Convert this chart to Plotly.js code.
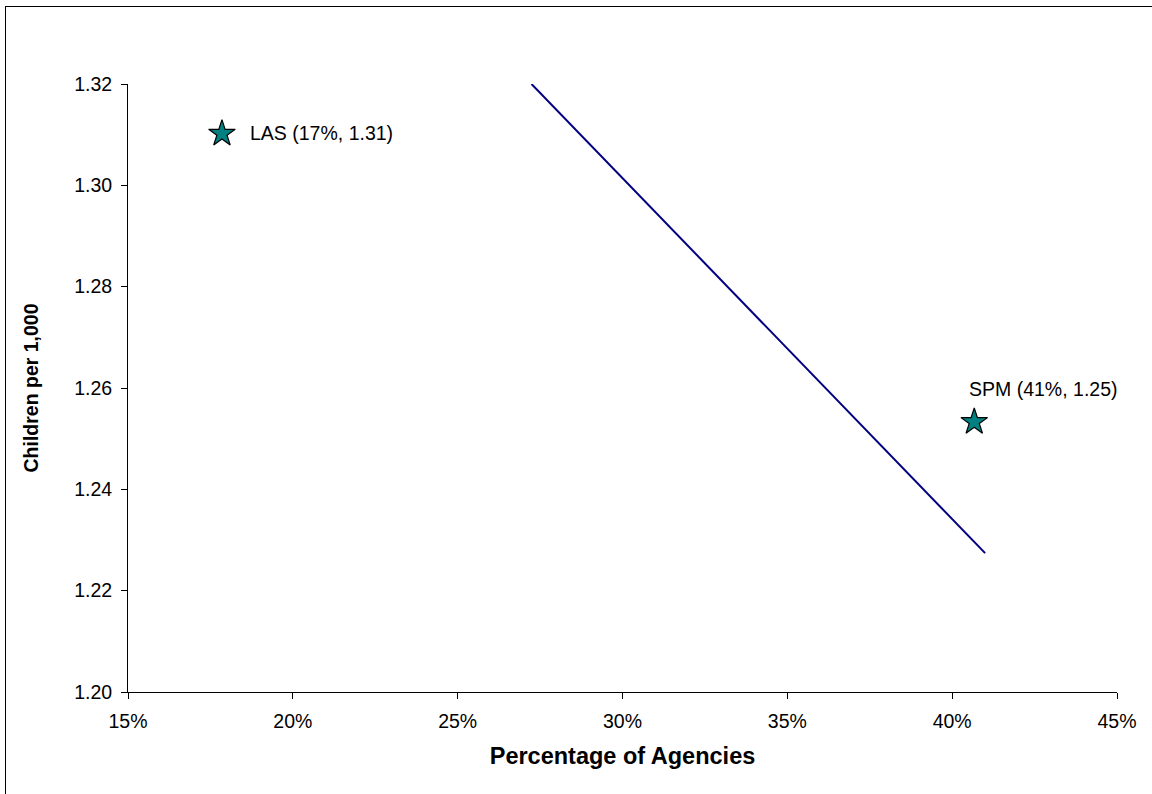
<!DOCTYPE html>
<html>
<head>
<meta charset="utf-8">
<script src="https://cdn.plot.ly/plotly-3.0.1.min.js"></script>
<style>
html,body{margin:0;padding:0;overflow:hidden;background:#fff;}
#wrap{position:absolute;left:0;top:0;width:1152px;height:794px;}
#frame{position:absolute;left:5px;top:6px;width:1200px;height:900px;border-left:1px solid #000;border-top:1px solid #000;pointer-events:none;}
#chart{position:absolute;left:0;top:0;width:1152px;height:794px;}
</style>
</head>
<body>
<div id="wrap"><div id="chart"></div><div id="frame"></div></div>
<script>
const agencyNames = ["LAS", "SPM"];
const agencyPct = [0.1785, 0.4067];
const childrenPer1000 = [1.3102, 1.2533];
const pointLabels = ["LAS (17%, 1.31)", "SPM (41%, 1.25)"];
const trendX = [0.2724, 0.4100];
const trendY = [1.3200, 1.2274];
const xTicks = [0.15, 0.20, 0.25, 0.30, 0.35, 0.40, 0.45];
const yTicks = [1.20, 1.22, 1.24, 1.26, 1.28, 1.30, 1.32];

const FONT = "Liberation Sans, Arial, sans-serif";

const traces = [
  {
    x: trendX, y: trendY, type: "scatter", mode: "lines",
    line: {color: "#000080", width: 2}, hoverinfo: "skip", showlegend: false
  },
  {
    x: agencyPct, y: childrenPer1000, type: "scatter", mode: "markers",
    name: "Agencies", text: agencyNames,
    marker: {symbol: "star", size: 20, color: "#008080", line: {color: "#000", width: 1.2}},
    showlegend: false
  }
];

const annotations = [
  {x: agencyPct[0], y: childrenPer1000[0], text: pointLabels[0], showarrow: false,
   xanchor: "left", yanchor: "middle", xshift: 26, yshift: 1,
   font: {family: FONT, size: 19.5, color: "#000"}},
  {x: agencyPct[1], y: childrenPer1000[1], text: pointLabels[1], showarrow: false,
   xanchor: "left", yanchor: "middle", xshift: -7, yshift: 33,
   font: {family: FONT, size: 19.5, color: "#000"}}
];

const layout = {
  width: 1152, height: 794,
  paper_bgcolor: "rgba(0,0,0,0)", plot_bgcolor: "#fff",
  margin: {l: 128, r: 35, t: 84, b: 102},
  font: {family: FONT, size: 19.5, color: "#000"},
  showlegend: false,
  xaxis: {
    range: [0.15, 0.45], tickvals: xTicks, tickformat: ".0%",
    showgrid: false, zeroline: false, showline: true, linecolor: "#000", linewidth: 1,
    ticks: "outside", ticklen: 6, tickcolor: "#000", ticklabelstandoff: 6,
    tickfont: {size: 19.5},
    title: {text: "<b>Percentage of Agencies</b>", font: {size: 23.5}, standoff: 16}
  },
  yaxis: {
    range: [1.20, 1.32], tickvals: yTicks, tickformat: ".2f",
    showgrid: false, zeroline: false, showline: true, linecolor: "#000", linewidth: 1,
    ticks: "outside", ticklen: 6, tickcolor: "#000", ticklabelstandoff: 5,
    tickfont: {size: 19.5},
    title: {text: "<b>Children per 1,000</b>", font: {size: 19.5}, standoff: 30}
  },
  annotations: annotations
};

Plotly.newPlot("chart", traces, layout, {displayModeBar: false, staticPlot: true});
</script>
</body>
</html>
